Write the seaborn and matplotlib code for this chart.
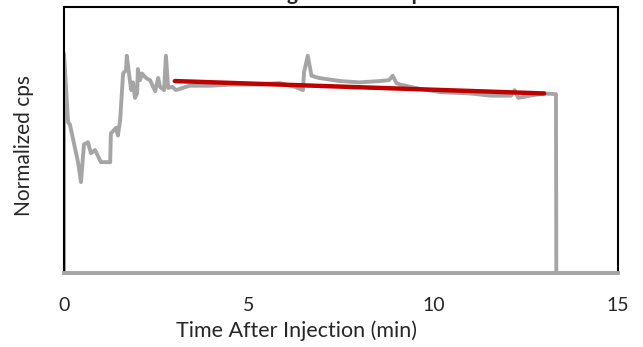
import numpy as np
import pandas as pd
import matplotlib
matplotlib.use("Agg")
import matplotlib.pyplot as plt
import seaborn as sns

# measured signal (normalized cps) vs time after injection (min)
time_min = [0.0, 0.0, 0.11, 0.16, 0.38, 0.46, 0.54, 0.65, 0.73, 0.84, 1.0, 1.25, 1.27,
            1.41, 1.46, 1.52, 1.6, 1.68, 1.7, 1.76, 1.82, 1.87, 1.92, 1.98, 2.0, 2.06,
            2.11, 2.22, 2.33, 2.47, 2.55, 2.6, 2.71, 2.76, 2.82, 2.93, 3.03, 3.4, 3.95,
            4.5, 5.2, 5.85, 6.25, 6.47, 6.5, 6.6, 6.7, 6.9, 7.47, 8.0, 8.56, 8.8, 8.9,
            9.0, 9.1, 9.65, 10.2, 11.0, 11.55, 12.1, 12.2, 12.3, 12.62, 13.0, 13.32,
            13.33, 15.0]
norm_cps = [0.0, 0.99, 0.68, 0.67, 0.50, 0.41, 0.58, 0.59, 0.54, 0.555, 0.50, 0.50, 0.63,
            0.655, 0.62, 0.69, 0.90, 0.915, 0.98, 0.90, 0.825, 0.86, 0.79, 0.81, 0.92, 0.87,
            0.90, 0.88, 0.87, 0.82, 0.88, 0.84, 0.825, 0.98, 0.835, 0.84, 0.825, 0.845, 0.845,
            0.85, 0.85, 0.857, 0.84, 0.825, 0.906, 0.98, 0.89, 0.88, 0.866, 0.86, 0.866, 0.87, 0.89,
            0.857, 0.85, 0.83, 0.816, 0.81, 0.80, 0.80, 0.825, 0.79, 0.80, 0.81, 0.807,
            0.0, 0.0]

# linear fit over the steady part
fit_time = [3.0, 13.0]
fit_cps = [0.866, 0.81]

signal = pd.DataFrame({"t": time_min, "cps": norm_cps})
fit = pd.DataFrame({"t": fit_time, "cps": fit_cps})

sns.set_style("white")
plt.rcParams["font.family"] = ["Lato", "DejaVu Sans"]

fig = plt.figure(figsize=(6.43, 3.47), dpi=100)
ax = fig.add_axes([64 / 643, 1 - 273 / 347, (618 - 64) / 643, (273 - 7) / 347])

sns.lineplot(data=signal, x="t", y="cps", sort=False, estimator=None,
             color="#A5A5A5", linewidth=2.8, ax=ax)
sns.lineplot(data=fit, x="t", y="cps", sort=False, estimator=None,
             color="#C00000", linewidth=3.2, ax=ax)

ax.set_xlim(0, 15)
ax.set_ylim(0, 1.2)
ax.set_xticks([0, 5, 10, 15])
ax.set_yticks([])
ax.tick_params(axis="x", length=0, pad=17, labelsize=14)

for side in ["top", "left", "right"]:
    ax.spines[side].set_color("black")
    ax.spines[side].set_linewidth(1.5)
ax.spines["bottom"].set_color("#A5A5A5")
ax.spines["bottom"].set_linewidth(2.8)

ax.set_xlabel("Time After Injection (min)", fontsize=15.5)
ax.xaxis.set_label_coords(0.42, -0.18)
ax.set_ylabel("Normalized cps", fontsize=15)
ax.yaxis.set_label_coords(-0.055, 0.48)

fig.text(0.52, 1 - 0.5 / 347, "Normalizing Measured cps Data", ha="center",
         va="baseline", fontsize=15, fontweight="bold")

fig.savefig("out.png", dpi=100)
